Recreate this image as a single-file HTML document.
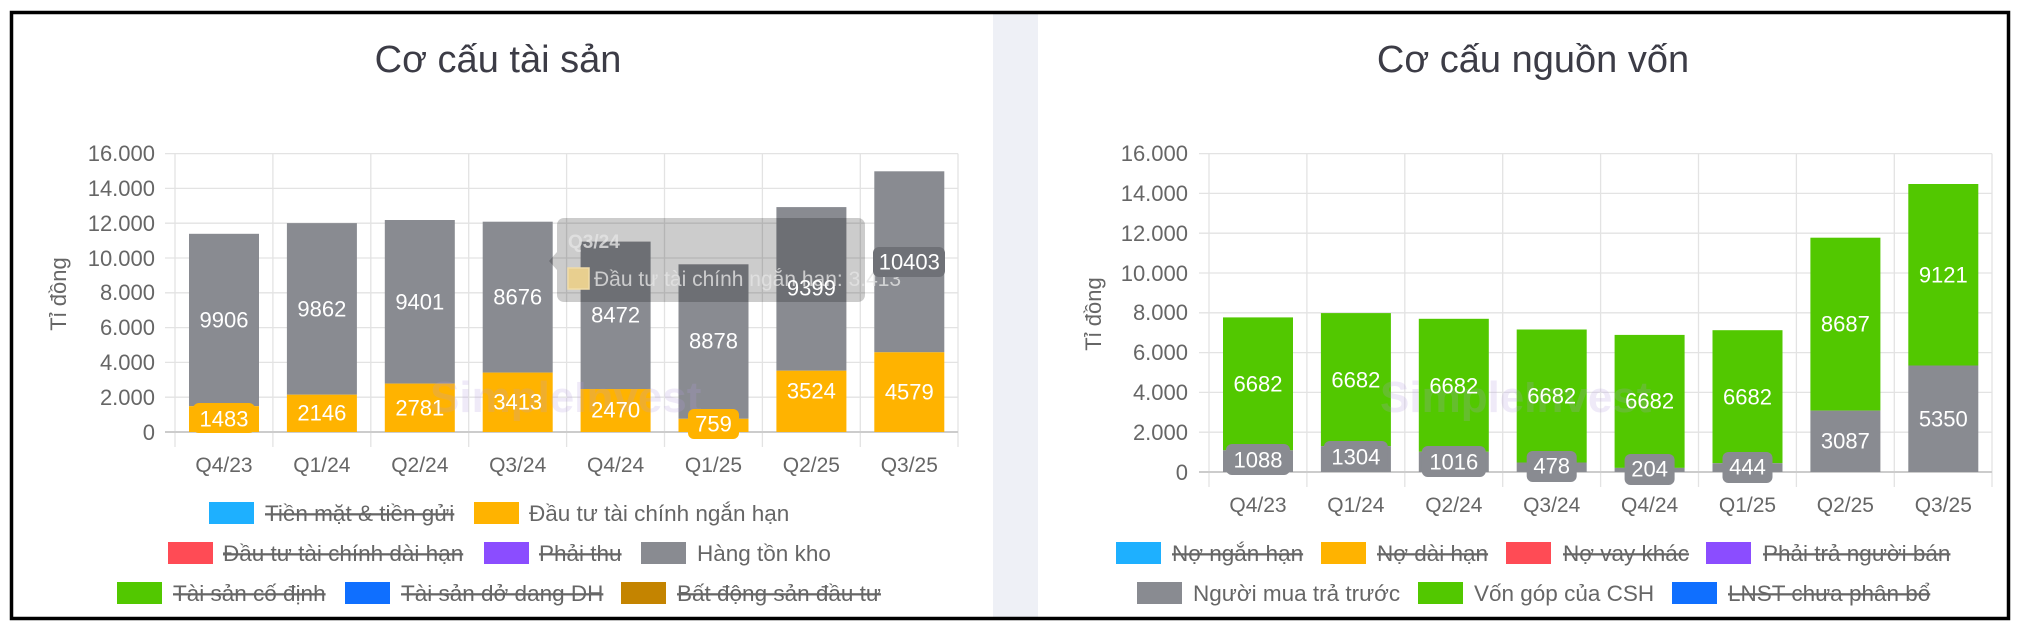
<!DOCTYPE html>
<html><head><meta charset="utf-8"><style>
html,body{margin:0;padding:0;background:#fff;}
svg{display:block;font-family:"Liberation Sans","DejaVu Sans",sans-serif;}
.ax{fill:#666;font-size:22px;}
.xl{fill:#666;font-size:21px;}
.lg{fill:#666;font-size:22.5px;}
.st{text-decoration:line-through;}
.bl{fill:#fff;font-size:22px;text-anchor:middle;dominant-baseline:central;}
.grid line{stroke:#e3e3e3;stroke-width:1.3;}
</style></head><body>
<svg width="2022" height="631" viewBox="0 0 2022 631" xmlns="http://www.w3.org/2000/svg">
<rect x="0" y="0" width="2022" height="631" fill="#fff"/>
<rect x="993" y="12" width="45" height="607" fill="#eef0f6"/>
<rect x="11.5" y="12.5" width="1997" height="606" fill="none" stroke="#000" stroke-width="3.5"/>

<!-- LEFT CHART -->
<text x="498" y="72" text-anchor="middle" font-size="38" fill="#3c3c46">Cơ cấu tài sản</text>
<g class="grid">
<line x1="165" y1="153.6" x2="958" y2="153.6"/><line x1="165" y1="188.4" x2="958" y2="188.4"/>
<line x1="165" y1="223.2" x2="958" y2="223.2"/><line x1="165" y1="258" x2="958" y2="258"/>
<line x1="165" y1="292.8" x2="958" y2="292.8"/><line x1="165" y1="327.6" x2="958" y2="327.6"/>
<line x1="165" y1="362.4" x2="958" y2="362.4"/><line x1="165" y1="397.2" x2="958" y2="397.2"/>
<line x1="175" y1="153.6" x2="175" y2="447"/><line x1="272.9" y1="153.6" x2="272.9" y2="447"/>
<line x1="370.8" y1="153.6" x2="370.8" y2="447"/><line x1="468.7" y1="153.6" x2="468.7" y2="447"/>
<line x1="566.6" y1="153.6" x2="566.6" y2="447"/><line x1="664.5" y1="153.6" x2="664.5" y2="447"/>
<line x1="762.4" y1="153.6" x2="762.4" y2="447"/><line x1="860.3" y1="153.6" x2="860.3" y2="447"/>
<line x1="958" y1="153.6" x2="958" y2="447"/>
</g>
<line x1="165" y1="432" x2="958" y2="432" stroke="#ccc" stroke-width="2"/>
<g class="ax" text-anchor="end">
<text x="155" y="161">16.000</text><text x="155" y="196">14.000</text><text x="155" y="231">12.000</text>
<text x="155" y="266">10.000</text><text x="155" y="300">8.000</text><text x="155" y="335">6.000</text>
<text x="155" y="370">4.000</text><text x="155" y="405">2.000</text><text x="155" y="440">0</text>
</g>
<text transform="translate(66,294) rotate(-90)" text-anchor="middle" class="ax">Tỉ đồng</text>
<g class="xl" text-anchor="middle">
<text x="224" y="472">Q4/23</text><text x="321.9" y="472">Q1/24</text><text x="419.8" y="472">Q2/24</text>
<text x="517.7" y="472">Q3/24</text><text x="615.6" y="472">Q4/24</text><text x="713.5" y="472">Q1/25</text>
<text x="811.4" y="472">Q2/25</text><text x="909.3" y="472">Q3/25</text>
</g>
<g fill="#898b91">
<rect x="189" y="233.8" width="70" height="172.4"/><rect x="286.9" y="223.1" width="70" height="171.6"/>
<rect x="384.8" y="220" width="70" height="163.6"/><rect x="482.7" y="221.7" width="70" height="150.9"/>
<rect x="580.6" y="241.6" width="70" height="147.4"/><rect x="678.5" y="264.3" width="70" height="154.5"/>
<rect x="776.4" y="207.1" width="70" height="163.6"/><rect x="874.3" y="171.3" width="70" height="181"/>
</g>
<g fill="#ffb300">
<rect x="189" y="406.2" width="70" height="25.8"/><rect x="286.9" y="394.7" width="70" height="37.3"/>
<rect x="384.8" y="383.6" width="70" height="48.4"/><rect x="482.7" y="372.6" width="70" height="59.4"/>
<rect x="580.6" y="389" width="70" height="43"/><rect x="678.5" y="418.8" width="70" height="13.2"/>
<rect x="776.4" y="370.7" width="70" height="61.3"/><rect x="874.3" y="352.3" width="70" height="79.7"/>
</g>
<text x="430" y="412" font-size="44" fill="#b49be0" opacity="0.2" font-weight="bold">SimpleInvest</text>
<rect x="557" y="218" width="308" height="84" rx="7" fill="#000" opacity="0.2"/>
<path d="M557 252 L549 261 L557 270 Z" fill="#000" opacity="0.2"/>
<text x="568" y="248" font-size="19" font-weight="bold" fill="#e4e4e4" opacity="0.8">Q3/24</text>
<rect x="568" y="268" width="21" height="21" fill="#e8cf8f" stroke="#f0dca8" stroke-width="1.5"/>
<text x="594" y="286" font-size="21" fill="#e4e4e4" opacity="0.8">Đầu tư tài chính ngắn hạn: 3.413</text>
<rect x="193" y="403" width="62" height="30" rx="6" fill="#ffb300"/>
<rect x="688" y="409" width="51" height="30" rx="6" fill="#ffb300"/>
<rect x="873" y="247" width="72" height="30" rx="6" fill="#6f7177"/>
<g class="bl">
<text x="224" y="419">1483</text><text x="224" y="320">9906</text>
<text x="321.9" y="413">2146</text><text x="321.9" y="309">9862</text>
<text x="419.8" y="408">2781</text><text x="419.8" y="302">9401</text>
<text x="517.7" y="402">3413</text><text x="517.7" y="297">8676</text>
<text x="615.6" y="410">2470</text><text x="615.6" y="315">8472</text>
<text x="713.5" y="424">759</text><text x="713.5" y="341">8878</text>
<text x="811.4" y="391">3524</text><text x="811.4" y="288">9399</text>
<text x="909.3" y="392">4579</text><text x="909.3" y="262">10403</text>
</g>
<g class="lg">
<rect x="209" y="502" width="45" height="22" fill="#1eb0ff"/><text x="265" y="521" class="st">Tiền mặt &amp; tiền gửi</text>
<rect x="474" y="502" width="45" height="22" fill="#ffb300"/><text x="529" y="521">Đầu tư tài chính ngắn hạn</text>
<rect x="168" y="542" width="45" height="22" fill="#ff4b55"/><text x="223" y="561" class="st">Đầu tư tài chính dài hạn</text>
<rect x="484" y="542" width="45" height="22" fill="#8b4dff"/><text x="539" y="561" class="st">Phải thu</text>
<rect x="641" y="542" width="45" height="22" fill="#898b91"/><text x="697" y="561">Hàng tồn kho</text>
<rect x="117" y="582" width="45" height="22" fill="#52c800"/><text x="173" y="601" class="st">Tài sản cố định</text>
<rect x="345" y="582" width="45" height="22" fill="#0f6fff"/><text x="401" y="601" class="st">Tài sản dở dang DH</text>
<rect x="621" y="582" width="45" height="22" fill="#c48400"/><text x="677" y="601" class="st">Bất động sản đầu tư</text>
</g>

<!-- RIGHT CHART -->
<text x="1533" y="72" text-anchor="middle" font-size="38" fill="#3c3c46">Cơ cấu nguồn vốn</text>
<g class="grid">
<line x1="1199" y1="153.6" x2="1992" y2="153.6"/><line x1="1199" y1="193.4" x2="1992" y2="193.4"/>
<line x1="1199" y1="233.2" x2="1992" y2="233.2"/><line x1="1199" y1="273" x2="1992" y2="273"/>
<line x1="1199" y1="312.8" x2="1992" y2="312.8"/><line x1="1199" y1="352.6" x2="1992" y2="352.6"/>
<line x1="1199" y1="392.4" x2="1992" y2="392.4"/><line x1="1199" y1="432.2" x2="1992" y2="432.2"/>
<line x1="1209" y1="153.6" x2="1209" y2="487"/><line x1="1306.9" y1="153.6" x2="1306.9" y2="487"/>
<line x1="1404.8" y1="153.6" x2="1404.8" y2="487"/><line x1="1502.7" y1="153.6" x2="1502.7" y2="487"/>
<line x1="1600.6" y1="153.6" x2="1600.6" y2="487"/><line x1="1698.5" y1="153.6" x2="1698.5" y2="487"/>
<line x1="1796.4" y1="153.6" x2="1796.4" y2="487"/><line x1="1894.3" y1="153.6" x2="1894.3" y2="487"/>
<line x1="1992" y1="153.6" x2="1992" y2="487"/>
</g>
<line x1="1199" y1="472" x2="1992" y2="472" stroke="#ccc" stroke-width="2"/>
<g class="ax" text-anchor="end">
<text x="1188" y="161">16.000</text><text x="1188" y="201">14.000</text><text x="1188" y="241">12.000</text>
<text x="1188" y="281">10.000</text><text x="1188" y="320">8.000</text><text x="1188" y="360">6.000</text>
<text x="1188" y="400">4.000</text><text x="1188" y="440">2.000</text><text x="1188" y="480">0</text>
</g>
<text transform="translate(1101,314) rotate(-90)" text-anchor="middle" class="ax">Tỉ đồng</text>
<g class="xl" text-anchor="middle">
<text x="1258" y="512">Q4/23</text><text x="1355.9" y="512">Q1/24</text><text x="1453.8" y="512">Q2/24</text>
<text x="1551.7" y="512">Q3/24</text><text x="1649.6" y="512">Q4/24</text><text x="1747.5" y="512">Q1/25</text>
<text x="1845.4" y="512">Q2/25</text><text x="1943.3" y="512">Q3/25</text>
</g>
<g fill="#52c800">
<rect x="1223" y="317.4" width="70" height="132.9"/><rect x="1320.9" y="313.1" width="70" height="133"/>
<rect x="1418.8" y="318.8" width="70" height="133"/><rect x="1516.7" y="329.5" width="70" height="133"/>
<rect x="1614.6" y="334.9" width="70" height="133"/><rect x="1712.5" y="330.2" width="70" height="133"/>
<rect x="1810.4" y="237.7" width="70" height="172.9"/><rect x="1908.3" y="184" width="70" height="181.5"/>
</g>
<g fill="#898b91">
<rect x="1223" y="450.3" width="70" height="21.7"/><rect x="1320.9" y="446.1" width="70" height="25.9"/>
<rect x="1418.8" y="451.8" width="70" height="20.2"/><rect x="1516.7" y="462.5" width="70" height="9.5"/>
<rect x="1614.6" y="467.9" width="70" height="4.1"/><rect x="1712.5" y="463.2" width="70" height="8.8"/>
<rect x="1810.4" y="410.6" width="70" height="61.4"/><rect x="1908.3" y="365.5" width="70" height="106.5"/>
</g>
<text x="1380" y="412" font-size="44" fill="#b49be0" opacity="0.2" font-weight="bold">SimpleInvest</text>
<g fill="#898b91">
<rect x="1226" y="444" width="64" height="31" rx="6"/><rect x="1323.9" y="441" width="64" height="31" rx="6"/>
<rect x="1421.8" y="446" width="64" height="31" rx="6"/><rect x="1526.7" y="451" width="50" height="31" rx="6"/>
<rect x="1624.6" y="454" width="50" height="31" rx="6"/><rect x="1722.5" y="452" width="50" height="31" rx="6"/>
</g>
<g class="bl">
<text x="1258" y="460">1088</text><text x="1258" y="384">6682</text>
<text x="1355.9" y="457">1304</text><text x="1355.9" y="380">6682</text>
<text x="1453.8" y="462">1016</text><text x="1453.8" y="386">6682</text>
<text x="1551.7" y="466">478</text><text x="1551.7" y="396">6682</text>
<text x="1649.6" y="469">204</text><text x="1649.6" y="401">6682</text>
<text x="1747.5" y="467">444</text><text x="1747.5" y="397">6682</text>
<text x="1845.4" y="441">3087</text><text x="1845.4" y="324">8687</text>
<text x="1943.3" y="419">5350</text><text x="1943.3" y="275">9121</text>
</g>
<g class="lg">
<rect x="1116" y="542" width="45" height="22" fill="#1eb0ff"/><text x="1172" y="561" class="st">Nợ ngắn hạn</text>
<rect x="1321" y="542" width="45" height="22" fill="#ffb300"/><text x="1377" y="561" class="st">Nợ dài hạn</text>
<rect x="1506" y="542" width="45" height="22" fill="#ff4b55"/><text x="1563" y="561" class="st">Nợ vay khác</text>
<rect x="1706" y="542" width="45" height="22" fill="#8b4dff"/><text x="1763" y="561" class="st">Phải trả người bán</text>
<rect x="1137" y="582" width="45" height="22" fill="#898b91"/><text x="1193" y="601">Người mua trả trước</text>
<rect x="1418" y="582" width="45" height="22" fill="#52c800"/><text x="1474" y="601">Vốn góp của CSH</text>
<rect x="1672" y="582" width="45" height="22" fill="#0f6fff"/><text x="1728" y="601" class="st">LNST chưa phân bổ</text>
</g>
</svg>
</body></html>
